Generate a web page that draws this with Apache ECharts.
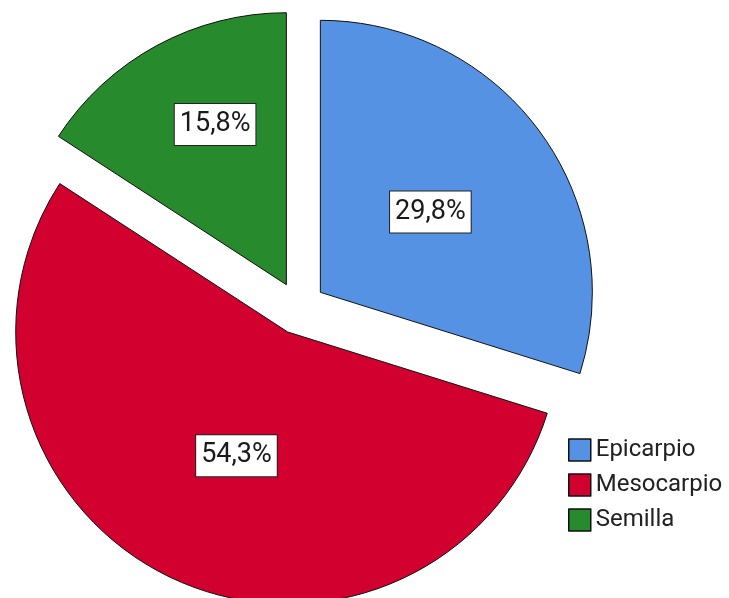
<!DOCTYPE html>
<html>
<head>
<meta charset="utf-8">
<script src="https://cdn.jsdelivr.net/npm/echarts@6/dist/echarts.min.js"></script>
<style>
  html, body { margin: 0; padding: 0; background: #fff; }
  #chart { width: 729px; height: 598px; }
</style>
</head>
<body>
<div id="chart"></div>
<script>
// Fruit part shares (%)
const categories = ['Epicarpio', 'Mesocarpio', 'Semilla'];
const shares = [29.8, 54.3, 15.8];
const colors = ['#5592E3', '#D2002E', '#278A2C'];
// small label nudges (px) so each box sits where the slice has room
const labelShift = [[-2, 2], [8, -2], [-5, -38]];

const chart = echarts.init(document.getElementById('chart'), null, { renderer: 'canvas' });

const data = categories.map((name, i) => ({
  name: name,
  value: shares[i],
  selected: true,
  itemStyle: { color: colors[i] },
  select: { itemStyle: { color: colors[i] } }
}));

chart.setOption({
  animation: false,
  backgroundColor: '#ffffff',
  legend: {
    orient: 'vertical',
    left: 563,
    top: 433,
    itemWidth: 22,
    itemHeight: 22,
    itemGap: 11,
    icon: 'rect',
    selectedMode: false,
    itemStyle: { borderColor: '#111', borderWidth: 1.5 },
    textStyle: { fontFamily: 'Roboto', fontSize: 24, lineHeight: 22, color: '#222' },
    data: categories
  },
  series: [{
    type: 'pie',
    center: [299, 308],
    radius: 272,
    startAngle: 90,
    clockwise: true,
    selectedMode: 'multiple',
    selectedOffset: 26.5,
    avoidLabelOverlap: false,
    emphasis: { disabled: true },
    itemStyle: { borderColor: '#111', borderWidth: 1 },
    select: { itemStyle: { borderColor: '#111', borderWidth: 1 } },
    label: {
      show: true,
      position: 'inside',
      formatter: p => p.value.toFixed(1).replace('.', ',') + '%',
      fontFamily: 'Roboto',
      fontSize: 27,
      lineHeight: 28,
      color: '#1a1a1a',
      backgroundColor: '#ffffff',
      borderColor: '#222',
      borderWidth: 1,
      padding: [7, 5, 6, 5]
    },
    labelLine: { show: false },
    labelLayout: p => ({ dx: labelShift[p.dataIndex][0], dy: labelShift[p.dataIndex][1] }),
    data: data
  }]
});
</script>
</body>
</html>
